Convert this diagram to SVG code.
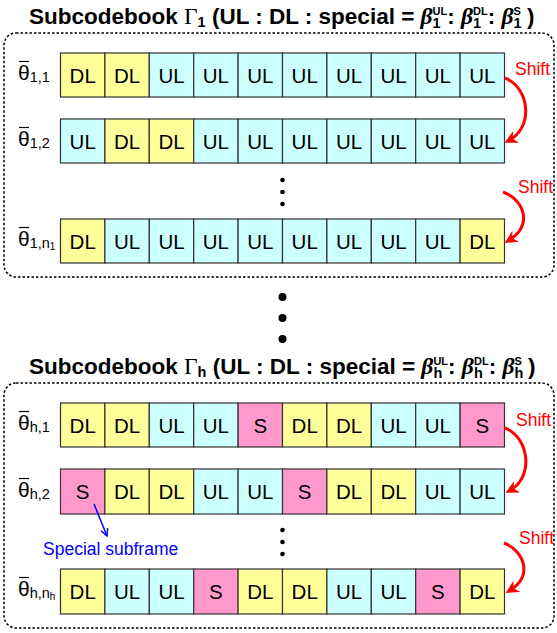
<svg xmlns="http://www.w3.org/2000/svg" width="557" height="633" viewBox="0 0 557 633">
<style>
.ttl{font-family:"Liberation Sans",Arial,sans-serif;font-weight:bold;font-size:22.5px;fill:#000}
.gr{font-family:"Liberation Serif","Times New Roman",serif;font-weight:normal;font-size:23.5px}
.gb{font-family:"Liberation Serif","Times New Roman",serif;font-style:italic;font-weight:bold;font-size:23.5px}
.sb{font-size:14.5px}
.sp{font-size:11px}
.box{fill:none;stroke:#000;stroke-width:1.5;stroke-dasharray:2.5 2}
.dl{fill:#FFFF99}.ul{fill:#CCFFFF}.s{fill:#FF99CC}
.cell rect{stroke:#333;stroke-width:1.2}
.cell text{font-family:"Liberation Sans",Arial,sans-serif;font-size:20.5px;text-anchor:middle;fill:#000}
.lbl{font-family:"Liberation Sans",Arial,sans-serif;font-size:21px;fill:#000}
.lbl .i{font-size:14.5px}
.lbl .ii{font-size:10px}
.ovl{stroke:#000;stroke-width:1.2}
.shift{font-family:"Liberation Sans",Arial,sans-serif;font-size:17.5px;fill:#FF0000}
.sarr{fill:none;stroke:#FF0000;stroke-width:3;marker-end:url(#rh)}
.barr{fill:none;stroke:#0000FF;stroke-width:1.5;marker-end:url(#bh)}
.spec{font-family:"Liberation Sans",Arial,sans-serif;font-size:17.5px;fill:#0000FF}
</style>
<defs>
<marker id="rh" viewBox="0 0 10 10" refX="7" refY="5" markerWidth="13" markerHeight="13" markerUnits="userSpaceOnUse" orient="auto">
<path d="M0,0 L10,5 L0,10 L3,5 z" fill="#FF0000"/>
</marker>
<marker id="bh" viewBox="0 0 10 10" refX="9" refY="5" markerWidth="9" markerHeight="9" markerUnits="userSpaceOnUse" orient="auto">
<path d="M1,1 L9,5 L1,9" fill="none" stroke="#0000FF" stroke-width="1.6"/>
</marker>
</defs>
<rect width="557" height="633" fill="#fff"/>

<g id="title1">
<text class="ttl" x="29" y="24">Subcodebook <tspan class="gr">Γ</tspan><tspan class="sb" dy="3">1</tspan><tspan dy="-3"> (UL : DL : special = </tspan><tspan class="gb">β</tspan><tspan class="sb" dy="4">1</tspan><tspan class="sp" dx="-8.1" dy="-13">UL</tspan><tspan dy="9">: </tspan><tspan class="gb">β</tspan><tspan class="sb" dy="4">1</tspan><tspan class="sp" dx="-8.1" dy="-13">DL</tspan><tspan dy="9">: </tspan><tspan class="gb">β</tspan><tspan class="sb" dy="4">1</tspan><tspan class="sp" dx="-8.1" dy="-13">S</tspan><tspan dy="9"> )</tspan></text>
</g>
<g id="block1">
<rect class="box" x="4" y="33" width="550" height="244" rx="12"/>
</g>

<g id="row1-1" class="cell">
<rect class="dl" x="60.5" y="53" width="44.4" height="44"/><text x="82.7" y="82.5">DL</text>
<rect class="dl" x="104.9" y="53" width="44.4" height="44"/><text x="127.1" y="82.5">DL</text>
<rect class="ul" x="149.3" y="53" width="44.4" height="44"/><text x="171.5" y="82.5">UL</text>
<rect class="ul" x="193.7" y="53" width="44.4" height="44"/><text x="215.9" y="82.5">UL</text>
<rect class="ul" x="238.1" y="53" width="44.4" height="44"/><text x="260.3" y="82.5">UL</text>
<rect class="ul" x="282.5" y="53" width="44.4" height="44"/><text x="304.7" y="82.5">UL</text>
<rect class="ul" x="326.9" y="53" width="44.4" height="44"/><text x="349.1" y="82.5">UL</text>
<rect class="ul" x="371.3" y="53" width="44.4" height="44"/><text x="393.5" y="82.5">UL</text>
<rect class="ul" x="415.7" y="53" width="44.4" height="44"/><text x="437.9" y="82.5">UL</text>
<rect class="ul" x="460.1" y="53" width="44.4" height="44"/><text x="482.3" y="82.5">UL</text>
</g>
<g id="row1-2" class="cell">
<rect class="ul" x="60.5" y="119" width="44.4" height="44"/><text x="82.7" y="148.5">UL</text>
<rect class="dl" x="104.9" y="119" width="44.4" height="44"/><text x="127.1" y="148.5">DL</text>
<rect class="dl" x="149.3" y="119" width="44.4" height="44"/><text x="171.5" y="148.5">DL</text>
<rect class="ul" x="193.7" y="119" width="44.4" height="44"/><text x="215.9" y="148.5">UL</text>
<rect class="ul" x="238.1" y="119" width="44.4" height="44"/><text x="260.3" y="148.5">UL</text>
<rect class="ul" x="282.5" y="119" width="44.4" height="44"/><text x="304.7" y="148.5">UL</text>
<rect class="ul" x="326.9" y="119" width="44.4" height="44"/><text x="349.1" y="148.5">UL</text>
<rect class="ul" x="371.3" y="119" width="44.4" height="44"/><text x="393.5" y="148.5">UL</text>
<rect class="ul" x="415.7" y="119" width="44.4" height="44"/><text x="437.9" y="148.5">UL</text>
<rect class="ul" x="460.1" y="119" width="44.4" height="44"/><text x="482.3" y="148.5">UL</text>
</g>
<g id="row1-n" class="cell">
<rect class="dl" x="60.5" y="219" width="44.4" height="44"/><text x="82.7" y="248.5">DL</text>
<rect class="ul" x="104.9" y="219" width="44.4" height="44"/><text x="127.1" y="248.5">UL</text>
<rect class="ul" x="149.3" y="219" width="44.4" height="44"/><text x="171.5" y="248.5">UL</text>
<rect class="ul" x="193.7" y="219" width="44.4" height="44"/><text x="215.9" y="248.5">UL</text>
<rect class="ul" x="238.1" y="219" width="44.4" height="44"/><text x="260.3" y="248.5">UL</text>
<rect class="ul" x="282.5" y="219" width="44.4" height="44"/><text x="304.7" y="248.5">UL</text>
<rect class="ul" x="326.9" y="219" width="44.4" height="44"/><text x="349.1" y="248.5">UL</text>
<rect class="ul" x="371.3" y="219" width="44.4" height="44"/><text x="393.5" y="248.5">UL</text>
<rect class="ul" x="415.7" y="219" width="44.4" height="44"/><text x="437.9" y="248.5">UL</text>
<rect class="dl" x="460.1" y="219" width="44.4" height="44"/><text x="482.3" y="248.5">DL</text>
</g>

<g id="labels1">
<text class="lbl" x="18" y="80">θ<tspan class="i" dy="2">1,1</tspan></text>
<line class="ovl" x1="19" y1="61.5" x2="29" y2="61.5"/>
<text class="lbl" x="18" y="146">θ<tspan class="i" dy="2">1,2</tspan></text>
<line class="ovl" x1="19" y1="127.5" x2="29" y2="127.5"/>
<text class="lbl" x="18" y="246">θ<tspan class="i" dy="2">1,n</tspan><tspan class="ii" dy="2">1</tspan></text>
<line class="ovl" x1="19" y1="227.5" x2="29" y2="227.5"/>
</g>

<g id="dots1" fill="#000">
<circle cx="282.5" cy="180" r="2.3"/><circle cx="282.5" cy="192" r="2.3"/><circle cx="282.5" cy="204" r="2.3"/>
</g>
<g id="bigdots" fill="#000">
<circle cx="282.5" cy="297" r="4"/><circle cx="282.5" cy="318" r="4"/><circle cx="282.5" cy="339" r="4"/>
</g>

<g id="title2">
<text class="ttl" x="29" y="374">Subcodebook <tspan class="gr">Γ</tspan><tspan class="sb" dy="3">h</tspan><tspan dy="-3"> (UL : DL : special = </tspan><tspan class="gb">β</tspan><tspan class="sb" dy="4">h</tspan><tspan class="sp" dx="-8.8" dy="-13">UL</tspan><tspan dy="9">: </tspan><tspan class="gb">β</tspan><tspan class="sb" dy="4">h</tspan><tspan class="sp" dx="-8.8" dy="-13">DL</tspan><tspan dy="9">: </tspan><tspan class="gb">β</tspan><tspan class="sb" dy="4">h</tspan><tspan class="sp" dx="-8.8" dy="-13">S</tspan><tspan dy="9"> )</tspan></text>
</g>
<g id="block2">
<rect class="box" x="4" y="383" width="550" height="245" rx="12"/>
</g>

<g id="rowh-1" class="cell">
<rect class="dl" x="60.5" y="403" width="44.4" height="44"/><text x="82.7" y="432.5">DL</text>
<rect class="dl" x="104.9" y="403" width="44.4" height="44"/><text x="127.1" y="432.5">DL</text>
<rect class="ul" x="149.3" y="403" width="44.4" height="44"/><text x="171.5" y="432.5">UL</text>
<rect class="ul" x="193.7" y="403" width="44.4" height="44"/><text x="215.9" y="432.5">UL</text>
<rect class="s" x="238.1" y="403" width="44.4" height="44"/><text x="260.3" y="432.5">S</text>
<rect class="dl" x="282.5" y="403" width="44.4" height="44"/><text x="304.7" y="432.5">DL</text>
<rect class="dl" x="326.9" y="403" width="44.4" height="44"/><text x="349.1" y="432.5">DL</text>
<rect class="ul" x="371.3" y="403" width="44.4" height="44"/><text x="393.5" y="432.5">UL</text>
<rect class="ul" x="415.7" y="403" width="44.4" height="44"/><text x="437.9" y="432.5">UL</text>
<rect class="s" x="460.1" y="403" width="44.4" height="44"/><text x="482.3" y="432.5">S</text>
</g>
<g id="rowh-2" class="cell">
<rect class="s" x="60.5" y="469" width="44.4" height="45"/><text x="82.7" y="499">S</text>
<rect class="dl" x="104.9" y="469" width="44.4" height="45"/><text x="127.1" y="499">DL</text>
<rect class="dl" x="149.3" y="469" width="44.4" height="45"/><text x="171.5" y="499">DL</text>
<rect class="ul" x="193.7" y="469" width="44.4" height="45"/><text x="215.9" y="499">UL</text>
<rect class="ul" x="238.1" y="469" width="44.4" height="45"/><text x="260.3" y="499">UL</text>
<rect class="s" x="282.5" y="469" width="44.4" height="45"/><text x="304.7" y="499">S</text>
<rect class="dl" x="326.9" y="469" width="44.4" height="45"/><text x="349.1" y="499">DL</text>
<rect class="dl" x="371.3" y="469" width="44.4" height="45"/><text x="393.5" y="499">DL</text>
<rect class="ul" x="415.7" y="469" width="44.4" height="45"/><text x="437.9" y="499">UL</text>
<rect class="ul" x="460.1" y="469" width="44.4" height="45"/><text x="482.3" y="499">UL</text>
</g>
<g id="rowh-n" class="cell">
<rect class="dl" x="60.5" y="569" width="44.4" height="45"/><text x="82.7" y="599">DL</text>
<rect class="ul" x="104.9" y="569" width="44.4" height="45"/><text x="127.1" y="599">UL</text>
<rect class="ul" x="149.3" y="569" width="44.4" height="45"/><text x="171.5" y="599">UL</text>
<rect class="s" x="193.7" y="569" width="44.4" height="45"/><text x="215.9" y="599">S</text>
<rect class="dl" x="238.1" y="569" width="44.4" height="45"/><text x="260.3" y="599">DL</text>
<rect class="dl" x="282.5" y="569" width="44.4" height="45"/><text x="304.7" y="599">DL</text>
<rect class="ul" x="326.9" y="569" width="44.4" height="45"/><text x="349.1" y="599">UL</text>
<rect class="ul" x="371.3" y="569" width="44.4" height="45"/><text x="393.5" y="599">UL</text>
<rect class="s" x="415.7" y="569" width="44.4" height="45"/><text x="437.9" y="599">S</text>
<rect class="dl" x="460.1" y="569" width="44.4" height="45"/><text x="482.3" y="599">DL</text>
</g>

<g id="labels2">
<text class="lbl" x="18" y="430">θ<tspan class="i" dy="2">h,1</tspan></text>
<line class="ovl" x1="19" y1="411.5" x2="29" y2="411.5"/>
<text class="lbl" x="18" y="497">θ<tspan class="i" dy="2">h,2</tspan></text>
<line class="ovl" x1="19" y1="478.5" x2="29" y2="478.5"/>
<text class="lbl" x="18" y="596">θ<tspan class="i" dy="2">h,n</tspan><tspan class="ii" dy="2">h</tspan></text>
<line class="ovl" x1="19" y1="577.5" x2="29" y2="577.5"/>
</g>

<g id="dots2" fill="#000">
<circle cx="282.5" cy="530" r="2.3"/><circle cx="282.5" cy="542" r="2.3"/><circle cx="282.5" cy="554" r="2.3"/>
</g>

<g id="special-label">
<text class="spec" x="43" y="555">Special subframe</text>
</g>

<g id="connectors">
<path class="sarr" d="M505,78 C530,88 534,128 508,141"/>
<path class="sarr" d="M503,192 C524,200 534,225 508,241"/>
<path class="sarr" d="M505,428 C530,438 534,478 509,491"/>
<path class="sarr" d="M504,543 C524,551 534,576 509,591"/>
<line class="barr" x1="94" y1="504" x2="107" y2="536"/>
</g>
<g id="shift-labels">
<text class="shift" x="515" y="75">Shift</text>
<text class="shift" x="518" y="193">Shift</text>
<text class="shift" x="516" y="426">Shift</text>
<text class="shift" x="519" y="544">Shift</text>
</g>
</svg>
